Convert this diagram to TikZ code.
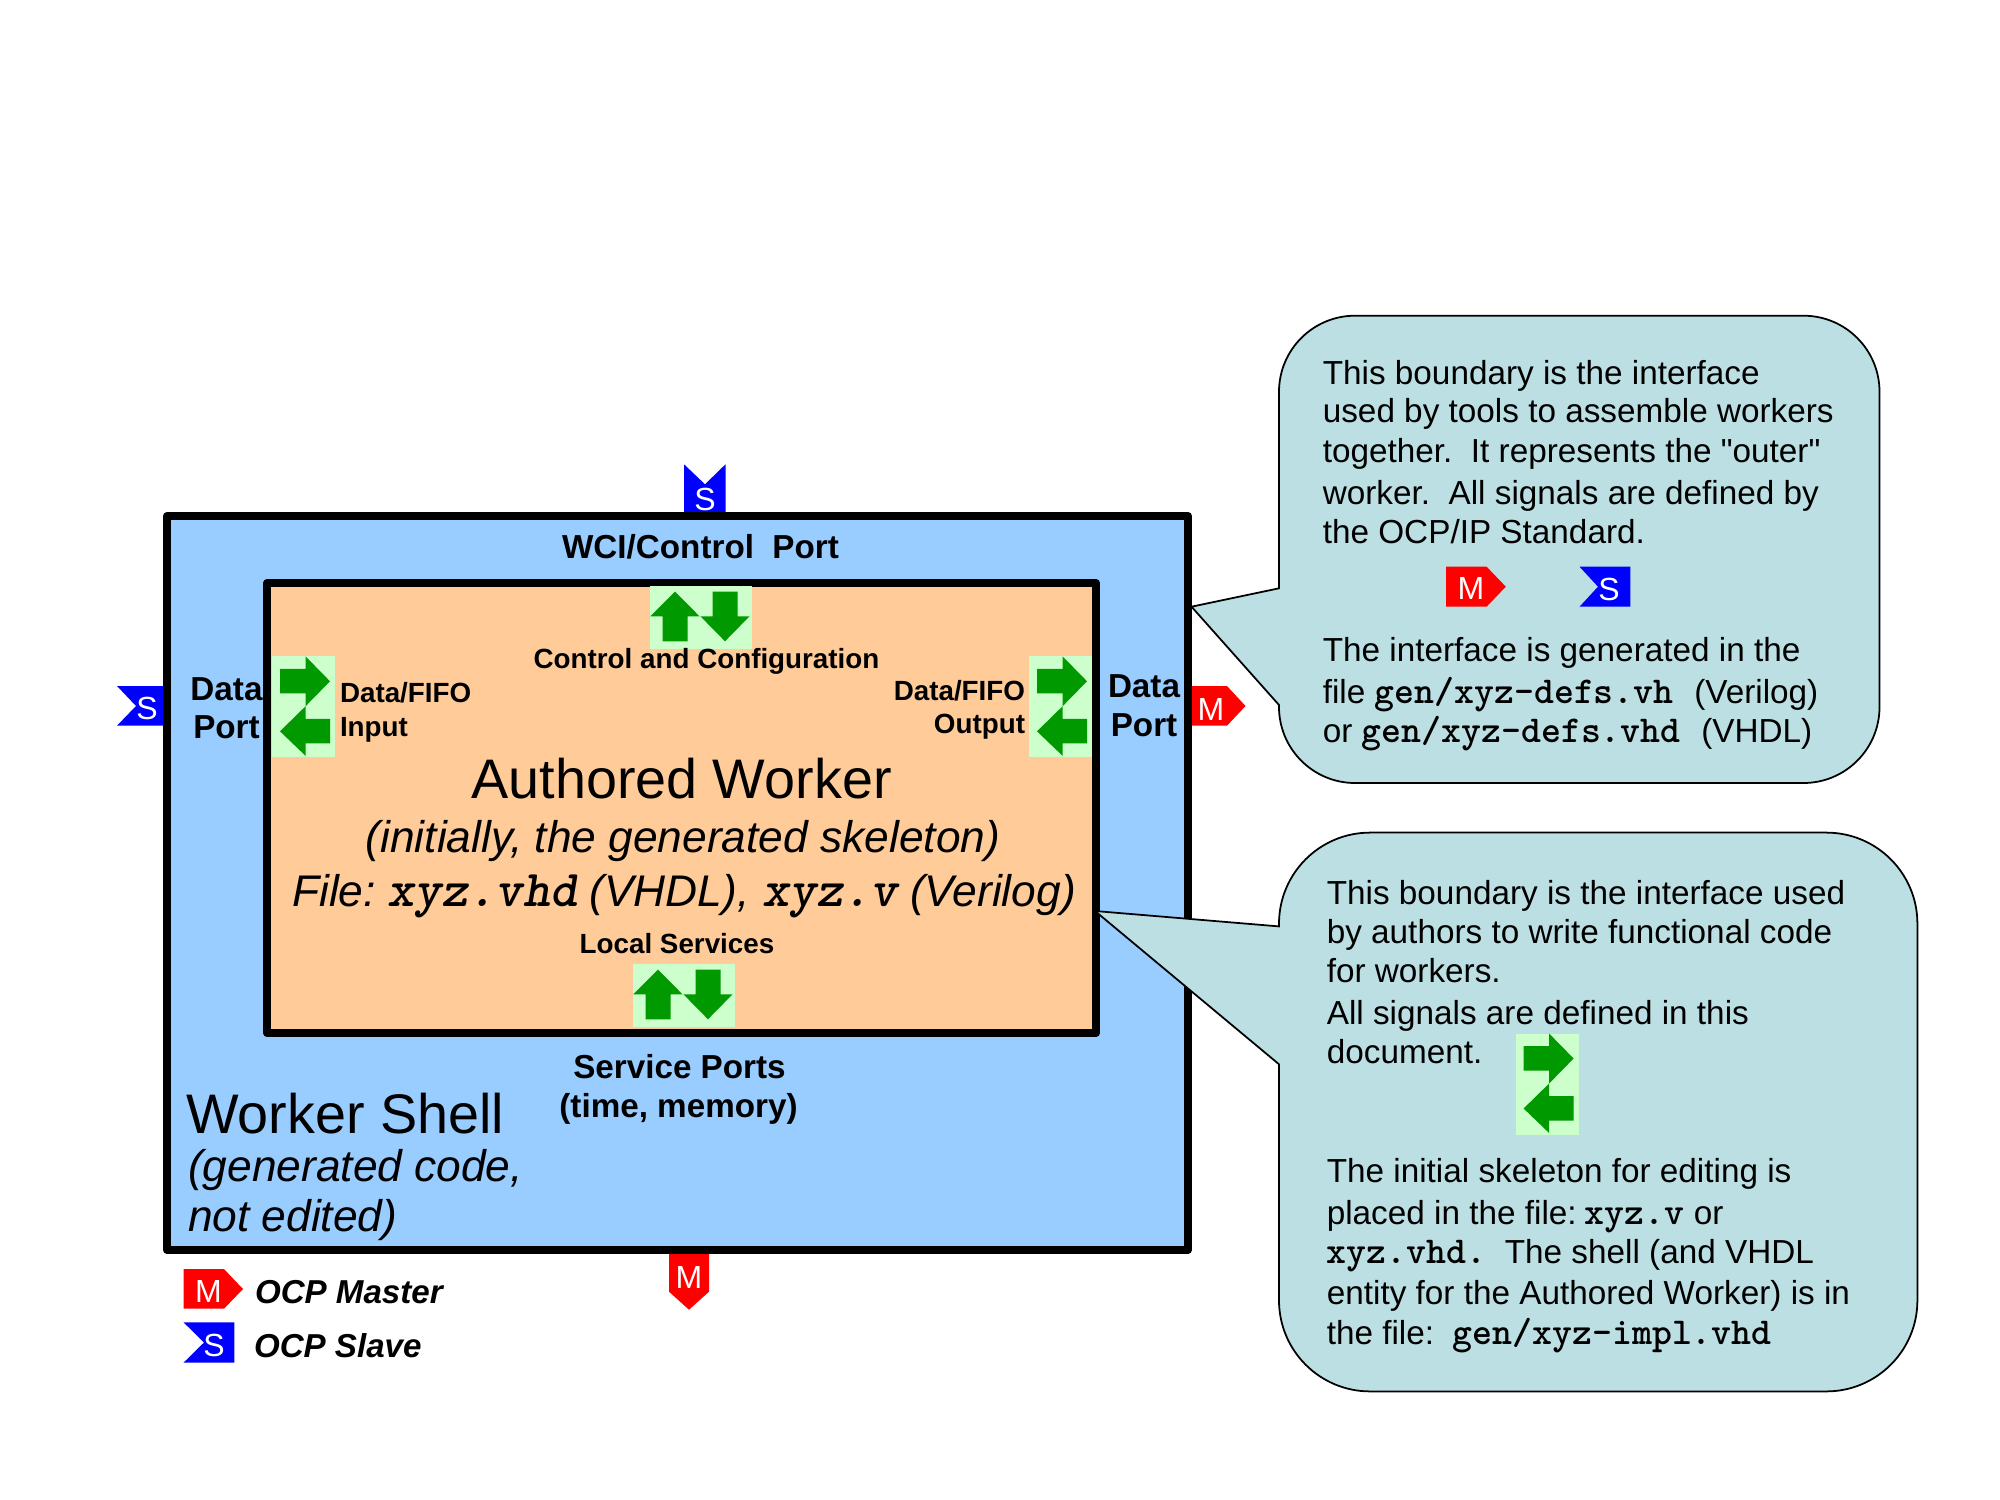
\documentclass[tikz,border=0pt]{standalone}
\usepackage{fontspec}
\setmainfont{Liberation Sans}
\newfontfamily\rawfont{Liberation Sans}
\newcommand{\code}[1]{{\fontsize{10.8}{11}\ttfamily\bfseries\addfontfeature{FakeBold=1.2}#1}}
\newcommand{\codebig}[1]{{\fontsize{14.7}{15}\ttfamily\bfseries\itshape\addfontfeature{FakeBold=1.5}#1}}
\definecolor{shellblue}{HTML}{99CCFF}
\definecolor{workerorange}{HTML}{FFCC99}
\definecolor{calloutteal}{HTML}{BBDFE3}
\definecolor{portbg}{HTML}{CCFFCC}
\definecolor{portarrow}{HTML}{009900}
\tikzset{
  x=0.01cm,y=-0.01cm,
  box/.style={draw=black,line width=2.3pt,line join=round},
  callout/.style={draw=black,fill=calloutteal,line width=0.5pt},
  txt/.style={inner sep=0pt,outer sep=0pt,anchor=base west,font=\fontsize{9.47}{11}\selectfont},
  txtc/.style={txt,anchor=base},
  txtr/.style={txt,anchor=base east},
  bold/.style={font=\fontsize{9.45}{11}\selectfont\bfseries},
  small/.style={font=\fontsize{7.9}{9}\selectfont\bfseries},
  big/.style={font=\fontsize{15.85}{18}\selectfont},
  mid/.style={font=\fontsize{12.6}{15}\selectfont\itshape},
  legend/.style={font=\fontsize{9.42}{11}\selectfont\bfseries\itshape},
  tagtext/.style={inner sep=0pt,anchor=base,text=white,font=\fontsize{9.1}{11}\selectfont},
}
% green port symbols: origin at top-left of the light background
\newcommand{\lrports}[2]{%
  \begin{scope}[shift={(#1,#2)}]
    \fill[portbg] (0,0) rectangle (63,101);
    \fill[portarrow] (8,12.5) -- (33.5,12.5) -- (33.5,0) -- (58,25) -- (33.5,50) -- (33.5,37) -- (8,37) -- cycle;
    \fill[portarrow] (58,62.5) -- (33.5,62.5) -- (33.5,50) -- (8,75) -- (33.5,99.5) -- (33.5,87) -- (58,87) -- cycle;
  \end{scope}}
\newcommand{\udports}[2]{%
  \begin{scope}[shift={(#1,#2)}]
    \fill[portbg] (0,0) rectangle (101.5,63);
    \fill[portarrow] (25,5.5) -- (49.5,30.3) -- (37.5,30.3) -- (37.5,55.3) -- (12.5,55.3) -- (12.5,30.3) -- (0.4,30.3) -- cycle;
    \fill[portarrow] (62.5,5.5) -- (87.5,5.5) -- (87.5,30.3) -- (99.5,30.3) -- (75,55.3) -- (50.4,30.3) -- (62.5,30.3) -- cycle;
  \end{scope}}
\begin{document}
\begin{tikzpicture}
\useasboundingbox (0,0) rectangle (2000,1500);
% port tags
\fill[blue] (684,464.3) -- (705,484.3) -- (725.5,464.3) -- (725.5,514) -- (684,514) -- cycle;
\node[tagtext] (tagtop) at (705,510) {S};
\fill[blue] (117,686) -- (165,686) -- (165,725.7) -- (117,725.7) -- (136,706) -- cycle;
\node[tagtext] (tagleft) at (147,719.3) {S};
\fill[red] (1189,686) -- (1227,686) -- (1245.5,706) -- (1227,725.7) -- (1189,725.7) -- cycle;
\node[tagtext] (tagright) at (1211,720) {M};
\fill[red] (669,1250) -- (709,1250) -- (709,1291.7) -- (689,1309.7) -- (669,1291.7) -- cycle;
\node[tagtext] (tagbottom) at (689,1288.3) {M};
% boxes
\draw[box,fill=shellblue] (167,516) rectangle (1188,1250);
\draw[box,fill=workerorange] (267,583) rectangle (1096,1033);
% ports
\udports{650}{586}
\udports{633}{964}
\lrports{272}{656.3}
\lrports{1029}{656.3}
% shell labels
\node[txtc,bold] (wci) at (700.5,558.5) {WCI/Control~~Port};
\node[txtc,bold] (dl1) at (226.5,700) {Data};
\node[txtc,bold] (dl2) at (226.5,738.3) {Port};
\node[txtc,bold] (dr1) at (1144,697.5) {Data};
\node[txtc,bold] (dr2) at (1144,736.5) {Port};
\node[txt,small] (fi1) at (340,702) {Data/FIFO};
\node[txt,small] (fi2) at (340,736) {Input};
\node[txtr,small] (fo1) at (1025,700) {Data/FIFO};
\node[txtr,small] (fo2) at (1025,733.3) {Output};
\node[txtc,small] (cc) at (706.5,668.3) {Control and Configuration};
\node[txtc,big] (aw) at (681.5,798.3) {Authored Worker};
\node[txtc,mid] (aw2) at (683,852.5) {(initially, the generated skeleton)};
\node[txtc,mid] (aw3) at (684,906) {File:\hspace{-1.4pt} \codebig{xyz.vhd} (VHDL), \codebig{xyz.v} (Verilog)};
\node[txtc,small] (ls) at (677,953.5) {Local Services};
\node[txtc,bold] (sp1) at (679.5,1078) {Service Ports};
\node[txtc,bold] (sp2) at (678.5,1117.2) {(time, memory)};
\node[txt,big] (ws) at (186,1133.5) {Worker Shell};
\node[txt,mid] (ws2) at (188,1181.5) {(generated code,};
\node[txt,mid] (ws3) at (188,1231.5) {not edited)};
% legend
\fill[red] (183.5,1269) -- (224,1269) -- (243,1289) -- (224,1308.7) -- (183.5,1308.7) -- cycle;
\node[tagtext] (lm) at (208.5,1302.7) {M};
\node[txt,legend] (lmt) at (255,1303.7) {OCP Master};
\fill[blue] (183.5,1322.3) -- (234.4,1322.3) -- (234.4,1362.7) -- (183.5,1362.7) -- (204,1342.5) -- cycle;
\node[tagtext] (ls2) at (214,1356) {S};
\node[txt,legend] (lst) at (254,1357.7) {OCP Slave};
% callouts
\draw[callout] (1191.5,606.7) -- (1279,588.3) [rounded corners=0.76cm] -- (1279,315.7) -- (1879.5,315.7) -- (1879.5,783) -- (1279,783) [sharp corners] -- (1279,705) -- cycle;
\draw[callout] (1095,911) -- (1279,926.4) [rounded corners=0.91cm] -- (1279,832.6) -- (1917.4,832.6) -- (1917.4,1391.4) -- (1279,1391.4) [sharp corners] -- (1279,1064.3) -- cycle;
% callout 1 content
\node[txt] (a1) at (1322.8,384.2) {This boundary is the interface};
\node[txt] (a2) at (1322.8,422) {used by tools to assemble workers};
\node[txt] (a3) at (1322.8,462) {together.~~It represents the {\rawfont"}outer{\rawfont"}};
\node[txt] (a4) at (1322.8,504.2) {worker.~~All signals are defined by};
\node[txt] (a5) at (1322.8,543.7) {the OCP/IP Standard.};
\fill[red] (1446,566.7) -- (1486.6,566.7) -- (1505.8,586.7) -- (1486.6,606.7) -- (1446,606.7) -- cycle;
\node[tagtext] (am) at (1471,599.3) {M};
\fill[blue] (1579.5,566.7) -- (1630.4,566.7) -- (1630.4,606.7) -- (1579.5,606.7) -- (1598,586.7) -- cycle;
\node[tagtext] (as) at (1609,600) {S};
\node[txt] (a6) at (1322.8,661.5) {The interface is generated in the};
\node[txt] (a7) at (1322.8,703.5) {file \code{gen/xyz-defs.vh}~~\hspace{0.6pt}(Verilog)};
\node[txt] (a8) at (1322.8,742.5) {or \code{gen/xyz-defs.vhd}~~\hspace{0.6pt}(VHDL)};
% callout 2 content
\node[txt] (b1) at (1326.8,904.6) {This boundary is the interface used};
\node[txt] (b2) at (1326.8,943.2) {by authors to write functional code};
\node[txt] (b3) at (1326.8,982.2) {for workers.};
\node[txt] (b4) at (1326.8,1024.5) {All signals are defined in this};
\node[txt] (b5) at (1326.8,1063.5) {document.};
\lrports{1515.6}{1033.5}
\node[txt] (b6) at (1326.8,1182.5) {The initial skeleton for editing is};
\node[txt] (b7) at (1326.8,1224) {placed in the file:\hspace{-1.2pt} \code{xyz.v} or};
\node[txt] (b8) at (1326.8,1263.5) {\code{xyz.vhd.}~~The shell (and VHDL};
\node[txt] (b9) at (1326.8,1304.8) {entity for the Authored Worker) is in};
\node[txt] (b10) at (1326.8,1344) {the file:~~\code{gen/xyz-impl.vhd}};
\end{tikzpicture}
\end{document}
